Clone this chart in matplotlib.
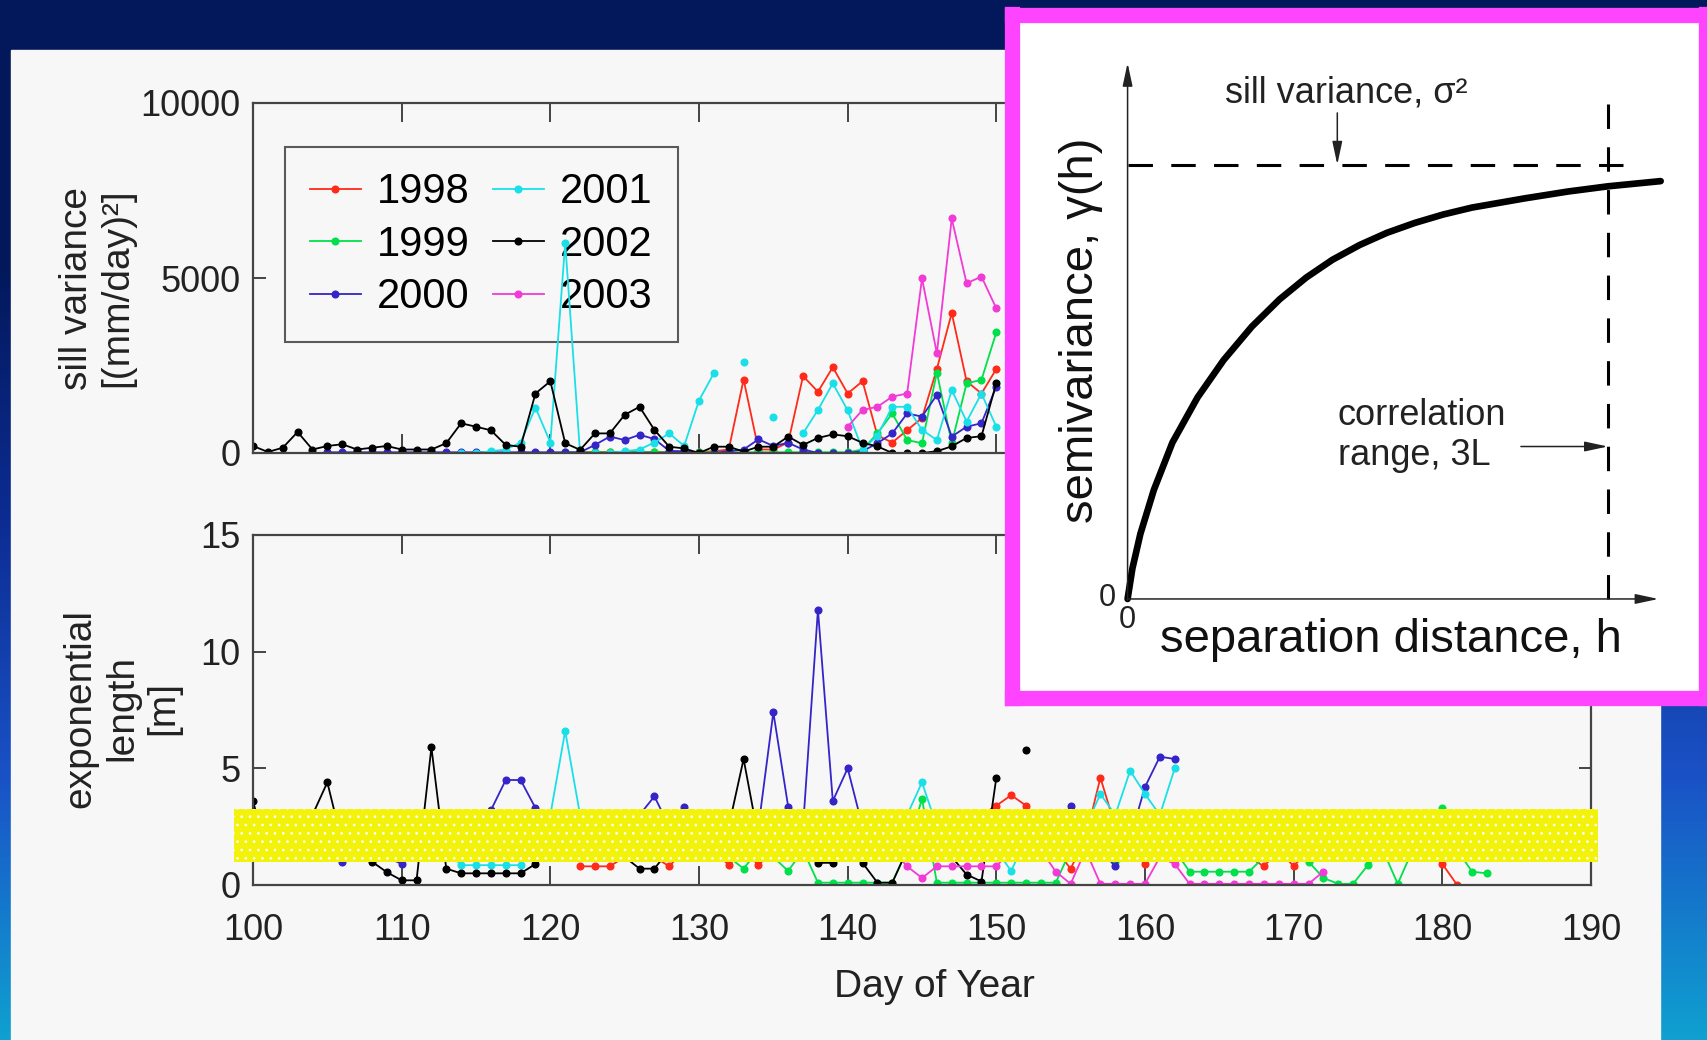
import numpy as np
import matplotlib.pyplot as plt
from matplotlib.patches import Rectangle
from matplotlib.colors import LinearSegmentedColormap

plt.rcParams['font.family'] = ['Liberation Sans', 'DejaVu Sans']
plt.rcParams['hatch.linewidth'] = 0.7

nan = np.nan
W, H = 1707, 1040

years = ['1998', '1999', '2000', '2001', '2002', '2003']
colors = ['#ff2a1a', '#00e04a', '#3524c8', '#19e0e8', '#000000', '#f23ad6']

# sill variance [(mm/day)^2], one value per day from the start day
sill_start = [122, 121, 105, 114, 100, 140]
sill_1998 = [30, 30, 30, 30, 30, 30, 30, 30, 30, 50, 100, 2100, 100, 100, 300, 2200, 1750, 2450,
             1700, 2050, 500, 300, 650, 1000, 2400, 4000, 2050, 1700, 2400]
sill_1999 = [20] * 20 + [100, 560, 1130, 370, 280, 2300, 280, 1990, 2090, 3450]
sill_2000 = [20] * 18 + [230, 470, 370, 520, 400, 60, 50, 0, 0, 50, 100, 390, 200, 290, 100, 0, 0, 0,
                         50, 280, 560, 1130, 1040, 1660, 470, 750, 850, 1900]
sill_2001 = [0, 0, 50, 100, 300, 1300, 300, 6000, 0, 0, 0, 50, 100, 300, 560, 200, 1500, 2280, nan,
             2610, nan, 1040, nan, 560, 1230, 1990, 1220, 90, 500, 1320, 1320, 660, 370, 1800, 900,
             1700, 750]
sill_2002 = [200, 30, 150, 600, 100, 200, 250, 100, 150, 200, 100, 100, 100, 280, 850, 750, 650, 230,
             180, 1700, 2050, 280, 90, 560, 560, 1090, 1320, 660, 180, 130, 0, 180, 180, 40, 180, 180,
             470, 230, 430, 530, 480, 290, 190, 0, 0, 0, 50, 190, 430, 480, 2000]
sill_2003 = [750, 1230, 1320, 1610, 1700, 4990, 2850, 6700, 4850, 5040, 4130]
sill_vals = [sill_1998, sill_1999, sill_2000, sill_2001, sill_2002, sill_2003]

# exponential length [m]
len_start = [122, 121, 104, 113, 100, 139]
len_1998 = [0.8, 0.8, 0.8, 1.2, 1.5, 1.2, 0.8, 1.5, 1.2, 1.5, 0.85, 1.5, 0.85, 1.5, 2.0, 1.5, 2.0, 1.5,
            2.5, 2.0, 1.5, 2.0, 1.8, 2.2, 1.5, 2.0, 2.5, 3.0, 3.4, 3.85, 3.4, 2.0, 1.5, 0.7, 2.0, 4.6,
            2.5, 1.5, 0.9, 1.5, 2.0, 1.8, 1.5, 1.8, 1.5, 1.2, 0.8, 1.5, 0.8, 1.5, 2.0, 1.8, 1.5, 2.0,
            2.5, 2.0, 1.8, 1.5, 0.9, 0.0]
len_1999 = [2.0, 2.5, 1.5, 2.0, 2.2, 1.8, 1.5, 2.0, 1.5, 1.8, 1.5, 1.2, 0.7, 1.5, 1.2, 0.6, 1.5, 0.1,
            0.1, 0.1, 0.1, 0.1, 0.1, 1.5, 3.7, 0.1, 0.1, 0.1, 0.1, 0.1, 0.1, 0.1, 0.1, 0.1, 1.5, 2.0,
            1.5, 1.0, 2.0, 1.5, 1.2, 1.5, 0.57, 0.57, 0.57, 0.57, 0.57, 1.2, 1.5, 1.2, 1.0, 0.3, 0.05,
            0.05, 0.86, 1.5, 0.05, 1.5, 2.0, 3.3, 1.5, 0.57, 0.5]
len_2000 = [2.5, 2.0, 1.0, 1.5, 1.5, 1.2, 0.9, 1.5, 1.5, 1.5, 1.5, 2.5, 3.2, 4.5, 4.5, 3.3, 2.5, 2.0,
            2.0, 1.8, 2.0, 2.5, 3.0, 3.8, 2.5, 3.35, 2.0, 1.8, 2.0, 1.5, 2.5, 7.4, 3.35, 2.5, 11.8, 3.6,
            5.0, 2.5, 2.0, 1.8, 1.5, 2.0, 1.5, 2.2, 2.0, 2.5, 2.0, 1.8, 2.5, 2.0, 2.2, 3.4, 2.0, 1.5,
            0.8, 2.0, 4.2, 5.5, 5.4]
len_2001 = [1.5, 0.85, 0.85, 0.85, 0.85, 0.85, 2.0, 3.0, 6.6, 3.0, 2.0, 2.5, 2.0, 1.5, 2.0, 2.5, 1.8,
            2.0, 2.2, 1.5, 2.0, 1.8, 2.0, 1.5, 1.5, 2.0, 2.5, 2.0, 1.5, 2.0, 2.5, 3.0, 4.4, 2.5, 2.0,
            1.5, 1.8, 1.5, 0.6, 2.0, 1.5, 2.0, 2.2, 2.5, 3.9, 3.0, 4.9, 3.9, 3.0, 5.0]
len_2002 = [3.6, 1.2, 1.5, 2.5, 3.0, 4.4, 1.8, 1.3, 1.0, 0.55, 0.2, 0.2, 5.9, 0.7, 0.5, 0.5, 0.5, 0.5,
            0.5, 0.9, 1.5, 2.0, 1.8, 2.2, 1.5, 1.2, 0.7, 0.7, 1.5, 2.0, 1.5, 2.0, 2.5, 5.4, 2.0, 1.5,
            2.5, 1.5, 0.95, 0.95, 1.5, 0.95, 0.1, 0.1, 1.5, 2.0, 1.5, 1.2, 0.45, 0.15, 4.6, nan, 5.8]
len_2003 = [2.5, 2.0, 2.2, 1.8, 1.5, 0.8, 0.3, 0.8, 0.8, 0.8, 0.8, 0.8, 1.5, 2.0, 1.5, 0.57, 0.05, 1.5,
            0.05, 0.05, 0.05, 0.05, 1.2, 0.9, 0.05, 0.05, 0.05, 0.05, 0.05, 0.05, 0.05, 0.05, 0.05, 0.57]
len_vals = [len_1998, len_1999, len_2000, len_2001, len_2002, len_2003]

# yellow band over the lower panel (days, metres)
band_days = [98.7, 190.5]
band_len = [1.0, 3.25]

# inset semivariogram, h in units of L, gamma in units of sill
curve_h = [0, 0.03, 0.08, 0.164, 0.28, 0.437, 0.6, 0.776, 0.95, 1.116, 1.28, 1.45, 1.62, 1.796,
           1.97, 2.15, 2.476, 2.75, 3.0, 3.33]
curve_g = [0, 0.07, 0.15, 0.251, 0.36, 0.464, 0.55, 0.627, 0.69, 0.74, 0.781, 0.815, 0.843, 0.866,
           0.885, 0.901, 0.922, 0.938, 0.95, 0.962]
sill_level = 1.0
range_3L = 3.0

fig = plt.figure(figsize=(W / 100, H / 100), dpi=100)


def box(l, t, r, b):
    return [l / W, 1 - b / H, (r - l) / W, (b - t) / H]


# slide background
bg = fig.add_axes([0, 0, 1, 1], zorder=-10)
cmap = LinearSegmentedColormap.from_list('bg', ['#03185a', '#03185a', '#0c2c92', '#1a52c6', '#0fa0d0'])
bg.imshow(np.linspace(0, 1, 256)[:, None], aspect='auto', cmap=cmap, extent=[0, 1, 0, 1])
bg.add_patch(Rectangle((11 / W, 0), (1660 - 11) / W, (H - 50) / H, color='#f7f7f7'))
bg.set_xlim(0, 1)
bg.set_ylim(0, 1)
bg.set_axis_off()

ax1 = fig.add_axes(box(253, 103, 1591, 453))
ax2 = fig.add_axes(box(253, 535, 1591, 885))
for ax in (ax1, ax2):
    ax.set_facecolor('none')
    ax.set_xlim(100, 190)
    ax.set_xticks(range(100, 191, 10))
    ax.tick_params(direction='in', top=True, right=True, labelsize=26,
                   labelcolor='#222222', color='#444444', width=1.4)
    ax.tick_params(axis='x', length=14, pad=20)
    ax.tick_params(axis='y', length=9, pad=9)
    for s in ax.spines.values():
        s.set_color('#444444')
        s.set_linewidth(1.6)

for yr, c, st, v in zip(years, colors, sill_start, sill_vals):
    d = np.arange(st, st + len(v))
    ax1.plot(d, v, '-o', color=c, lw=1.3, ms=4.8, label=yr)
ax1.set_ylim(0, 10000)
ax1.set_yticks([0, 5000, 10000])
ax1.tick_params(labelbottom=False)

leg = ax1.legend(ncol=2, loc='upper left', bbox_to_anchor=(0.0239, 0.874), borderaxespad=0,
                 fontsize=30, handlelength=1.22, handletextpad=0.39, columnspacing=0.55,
                 labelspacing=0.3, borderpad=0.6, fancybox=False, edgecolor='#333333')
leg.get_frame().set_linewidth(1.5)
leg.get_frame().set_facecolor('none')
leg.set_zorder(1)

for yr, c, st, v in zip(years, colors, len_start, len_vals):
    d = np.arange(st, st + len(v))
    ax2.plot(d, v, '-o', color=c, lw=1.3, ms=4.8)
ax2.set_ylim(0, 15)
ax2.set_yticks([0, 5, 10, 15])
ax2.add_patch(Rectangle((band_days[0], band_len[0]), band_days[1] - band_days[0],
                        band_len[1] - band_len[0], facecolor='#f2f20a', edgecolor='#ffffff',
                        linewidth=0, hatch='..', zorder=10, clip_on=False))

fig.text(97 / W, 1 - 288 / H, 'sill variance\n[(mm/day)²]', rotation=90, ha='center', va='center',
         fontsize=28, linespacing=1.15, color='#222222')
fig.text(122 / W, 1 - 708 / H, 'exponential\nlength\n[m]', rotation=90, ha='center', va='center',
         fontsize=28, linespacing=1.2, color='#222222')
fig.text(934 / W, 1 - 987 / H, 'Day of Year', ha='center', va='center', fontsize=28, color='#222222')

# inset
axi = fig.add_axes(box(1012, 14.5, 1705.5, 698), zorder=20)
axi.set_facecolor('white')
axi.set_xlim(-0.722, 3.610)
axi.set_ylim(-0.228, 1.3456)
axi.set_xticks([])
axi.set_yticks([])
for s in axi.spines.values():
    s.set_color('#ff44ff')
    s.set_linewidth(11)

arrow = dict(arrowstyle='-|>,head_width=0.15,head_length=0.7', lw=1.1, color='#222222',
             shrinkA=0, shrinkB=0, mutation_scale=20)
axi.annotate('', xy=(0, 1.234), xytext=(0, -0.003), arrowprops=arrow)
axi.annotate('', xy=(3.316, 0), xytext=(-0.003, 0), arrowprops=arrow)
axi.plot([0, 3.12], [sill_level, sill_level], color='k', lw=2.2, dashes=(8, 6))
axi.plot([range_3L, range_3L], [0, 1.166], color='k', lw=2.2, dashes=(8, 6))
axi.plot(curve_h, curve_g, color='k', lw=4.8, solid_capstyle='round', solid_joinstyle='round')
axi.annotate('', xy=(1.31, sill_level), xytext=(1.31, 1.119), arrowprops=arrow)
axi.annotate('', xy=(range_3L, 0.351), xytext=(2.457, 0.351), arrowprops=arrow)

axi.text(0.61, 1.166, 'sill variance, σ²', ha='left', va='center', fontsize=26, color='#222222')
axi.text(1.314, 0.376, 'correlation\nrange, 3L', ha='left', va='center', fontsize=26,
         linespacing=1.2, color='#222222')
axi.text(-0.291, 0.619, 'semivariance, γ(h)', rotation=90, ha='center', va='center', fontsize=34,
         color='#111111')
axi.text(1.646, -0.0955, 'separation distance, h', ha='center', va='center', fontsize=34,
         color='#111111')
axi.text(-0.127, 0.003, '0', ha='center', va='center', fontsize=22, color='#222222')
axi.text(0, -0.049, '0', ha='center', va='center', fontsize=22, color='#222222')

fig.savefig('out.png', dpi=100)
